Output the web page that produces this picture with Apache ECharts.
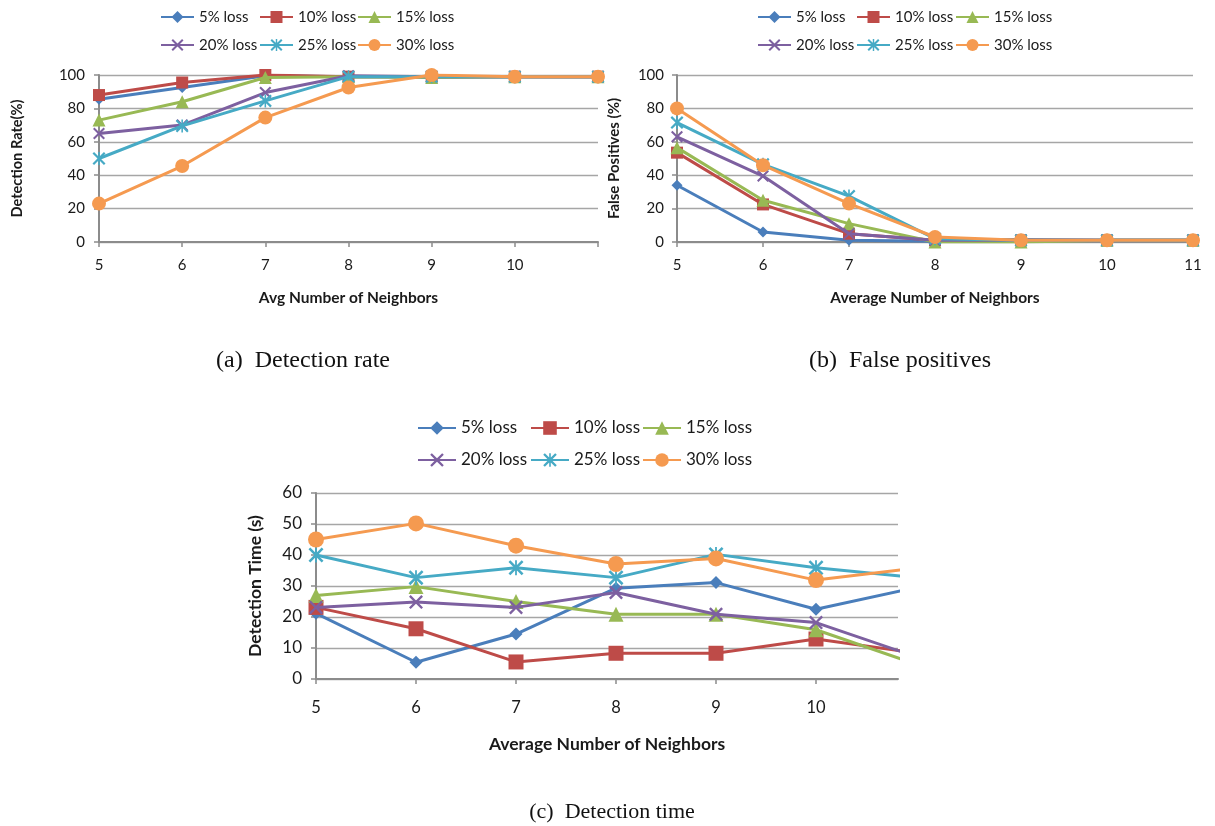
<!DOCTYPE html>
<html><head><meta charset="utf-8">
<script src="https://cdn.jsdelivr.net/npm/echarts@6/dist/echarts.min.js"></script>
<style>html,body{margin:0;padding:0;background:#fff}#c{width:1215px;height:826px}</style>
</head><body><div id="c"></div><script>
// ---- data ----
const seriesNames = ['5% loss', '10% loss', '15% loss', '20% loss', '25% loss', '30% loss'];
const neighbors = [5, 6, 7, 8, 9, 10, 11];
const xLabelsA = [5, 6, 7, 8, 9, 10];
const xLabelsB = [5, 6, 7, 8, 9, 10, 11];
const xLabelsC = [5, 6, 7, 8, 9, 10];

// (a) Detection rate (%)
const rate5  = [85.5, 92.5, 99.5, 99, 99, 99, 99];
const rate10 = [88, 95.5, 100, 99, 99, 99, 99];
const rate15 = [73, 84, 98.5, 99, 98.5, 99, 99];
const rate20 = [65, 70, 89.5, 99.5, 99, 99, 99];
const rate25 = [50, 69.5, 84.5, 99, 99, 99, 99];
const rate30 = [23, 45.5, 74.5, 92.5, 100, 99, 99];

// (b) False positives (%)
const fp5  = [34, 6, 1, 0.5, 1.5, 1, 1];
const fp10 = [53.5, 22.5, 5, 1, 1, 1, 1];
const fp15 = [56.5, 25, 11, 0, 0, 1, 1];
const fp20 = [63, 39.5, 5, 1, 1, 1, 1];
const fp25 = [71.5, 46.5, 27.5, 2, 1, 1, 1];
const fp30 = [80, 46, 23, 3, 1, 1, 1];

// (c) Detection time (s)  (the point at 11 is cut off by the crop of the figure)
const time5  = [21.2, 5.4, 14.5, 29.3, 31.1, 22.5, 29.5];
const time10 = [23.1, 16.2, 5.5, 8.3, 8.3, 12.9, 8.4];
const time15 = [26.9, 29.8, 25, 20.9, 20.9, 15.9, 4.8];
const time20 = [23.1, 24.8, 23.1, 27.9, 20.9, 18.2, 7.2];
const time25 = [40, 32.7, 35.9, 32.7, 40.2, 35.9, 32.7];
const time30 = [45, 50.2, 43, 37.1, 38.9, 31.9, 35.8];

// ---- styles ----
const colors = ['#4A7EBB', '#BE4B48', '#98B954', '#7D60A0', '#46AAC5', '#F59A50'];
const xPath = 'path://M0,0.12 L0.12,0 L0.5,0.38 L0.88,0 L1,0.12 L0.62,0.5 L1,0.88 L0.88,1 L0.5,0.62 L0.12,1 L0,0.88 L0.38,0.5 Z';
const starPath = 'path://M0,0.12 L0.12,0 L0.5,0.38 L0.88,0 L1,0.12 L0.62,0.5 L1,0.88 L0.88,1 L0.5,0.62 L0.12,1 L0,0.88 L0.38,0.5 Z M0.44,0 L0.56,0 L0.56,1 L0.44,1 Z';
const symbols = ['diamond', 'rect', 'triangle', xPath, starPath, 'circle'];
const symSizesAB = [11, 12, 13, 12, 13, 14];
const symSizesC = [13, 15, 15, 14, 15, 16];
const FONT = 'Lato';
const TXT = '#1a1a1a';
const gridColor = '#A6A6A6';
const axisColor = '#8C8C8C';

const dataA = [rate5, rate10, rate15, rate20, rate25, rate30];
const dataB = [fp5, fp10, fp15, fp20, fp25, fp30];
const dataC = [time5, time10, time15, time20, time25, time30];

function mkSeries(arrs, idx, sizes) {
  return arrs.map((arr, i) => ({
    name: seriesNames[i],
    type: 'line',
    xAxisIndex: idx, yAxisIndex: idx,
    data: neighbors.map((x, j) => [x, arr[j]]),
    symbol: symbols[i],
    symbolSize: sizes[i],
    showAllSymbol: true,
    clip: true,
    lineStyle: { color: colors[i], width: 3 },
    itemStyle: { color: colors[i] },
    emphasis: { disabled: true },
    animation: false,
    z: 2 + i
  }));
}

// one legend component per entry, laid out in Excel-like fixed columns
function mkLegends(cols, rows, fs, iw, ih) {
  return seriesNames.map((nm, i) => ({
    orient: 'horizontal', itemWidth: iw, itemHeight: ih, padding: 0,
    left: cols[i % 3], top: rows[Math.floor(i / 3)],
    data: [nm],
    textStyle: { fontFamily: FONT, fontSize: fs, color: TXT },
    selectedMode: false
  }));
}

function mkX(gridIdx, max, labels, ticks, name, fs, nfs, gap, lm) {
  return {
    gridIndex: gridIdx, type: 'value', min: 5, max: max, interval: 1,
    name: name, nameLocation: 'middle', nameGap: gap,
    nameTextStyle: { fontFamily: FONT, fontWeight: 'bold', fontSize: nfs, color: TXT },
    axisLine: { show: true, lineStyle: { color: axisColor, width: 2 } },
    axisTick: { show: true, length: 5, lineStyle: { color: axisColor, width: 1.5 }, customValues: ticks },
    axisLabel: { fontFamily: FONT, fontSize: fs, color: TXT, margin: lm, customValues: labels },
    splitLine: { show: false }
  };
}
function mkY(gridIdx, max, interval, name, fs, nfs, gap, lm) {
  return {
    gridIndex: gridIdx, type: 'value', min: 0, max: max, interval: interval,
    name: name, nameLocation: 'middle', nameGap: gap,
    nameTextStyle: { fontFamily: FONT, fontWeight: 'bold', fontSize: nfs, color: TXT },
    axisLine: { show: true, lineStyle: { color: axisColor, width: 2 } },
    axisTick: { show: true, length: 5, lineStyle: { color: axisColor, width: 1.5 } },
    axisLabel: { fontFamily: FONT, fontSize: fs, color: TXT, margin: lm },
    splitLine: { show: true, lineStyle: { color: gridColor, width: 1.3 } }
  };
}

const capStyle = { fontFamily: 'Liberation Serif', fontWeight: 'normal', fontSize: 24, color: '#111' };
const chart = echarts.init(document.getElementById('c'), null, { renderer: 'canvas' });
const option = {
  backgroundColor: '#ffffff',
  animation: false,
  title: [
    { text: '(a)  Detection rate', left: 303, top: 349, textAlign: 'center', padding: 0, textStyle: capStyle },
    { text: '(b)  False positives', left: 900, top: 349, textAlign: 'center', padding: 0, textStyle: capStyle },
    { text: '(c)  Detection time', left: 612, top: 801, textAlign: 'center', padding: 0,
      textStyle: Object.assign({}, capStyle, { fontSize: 22 }) }
  ],
  legend: [].concat(
    mkLegends([160, 259, 357], [9.5, 37.5], 15, 33, 15),
    mkLegends([757, 856, 955], [9.5, 37.5], 15, 33, 15),
    mkLegends([417, 530, 642], [419.5, 451.5], 17, 38, 17)
  ),
  grid: [
    { left: 99, top: 75, width: 499, height: 167, containLabel: false },
    { left: 677, top: 75, width: 516, height: 167, containLabel: false },
    { left: 316, top: 493, width: 582, height: 186, containLabel: false }
  ],
  xAxis: [
    mkX(0, 11, xLabelsA, neighbors, 'Avg Number of Neighbors', 15, 15.5, 48, 16),
    mkX(1, 11, xLabelsB, neighbors, 'Average Number of Neighbors', 15, 15.5, 48, 16),
    mkX(2, 10.82, xLabelsC, xLabelsC, 'Average Number of Neighbors', 16.5, 17.5, 56, 20)
  ],
  yAxis: [
    mkY(0, 100, 20, 'Detection Rate(%)', 15, 14.6, 74.5, 14),
    mkY(1, 100, 20, 'False Positives (%)', 15, 15, 55.5, 13),
    mkY(2, 60, 10, 'Detection Time (s)', 17, 17.5, 52, 14)
  ],
  series: [].concat(mkSeries(dataA, 0, symSizesAB), mkSeries(dataB, 1, symSizesAB), mkSeries(dataC, 2, symSizesC))
};
chart.setOption(option);
</script></body></html>
